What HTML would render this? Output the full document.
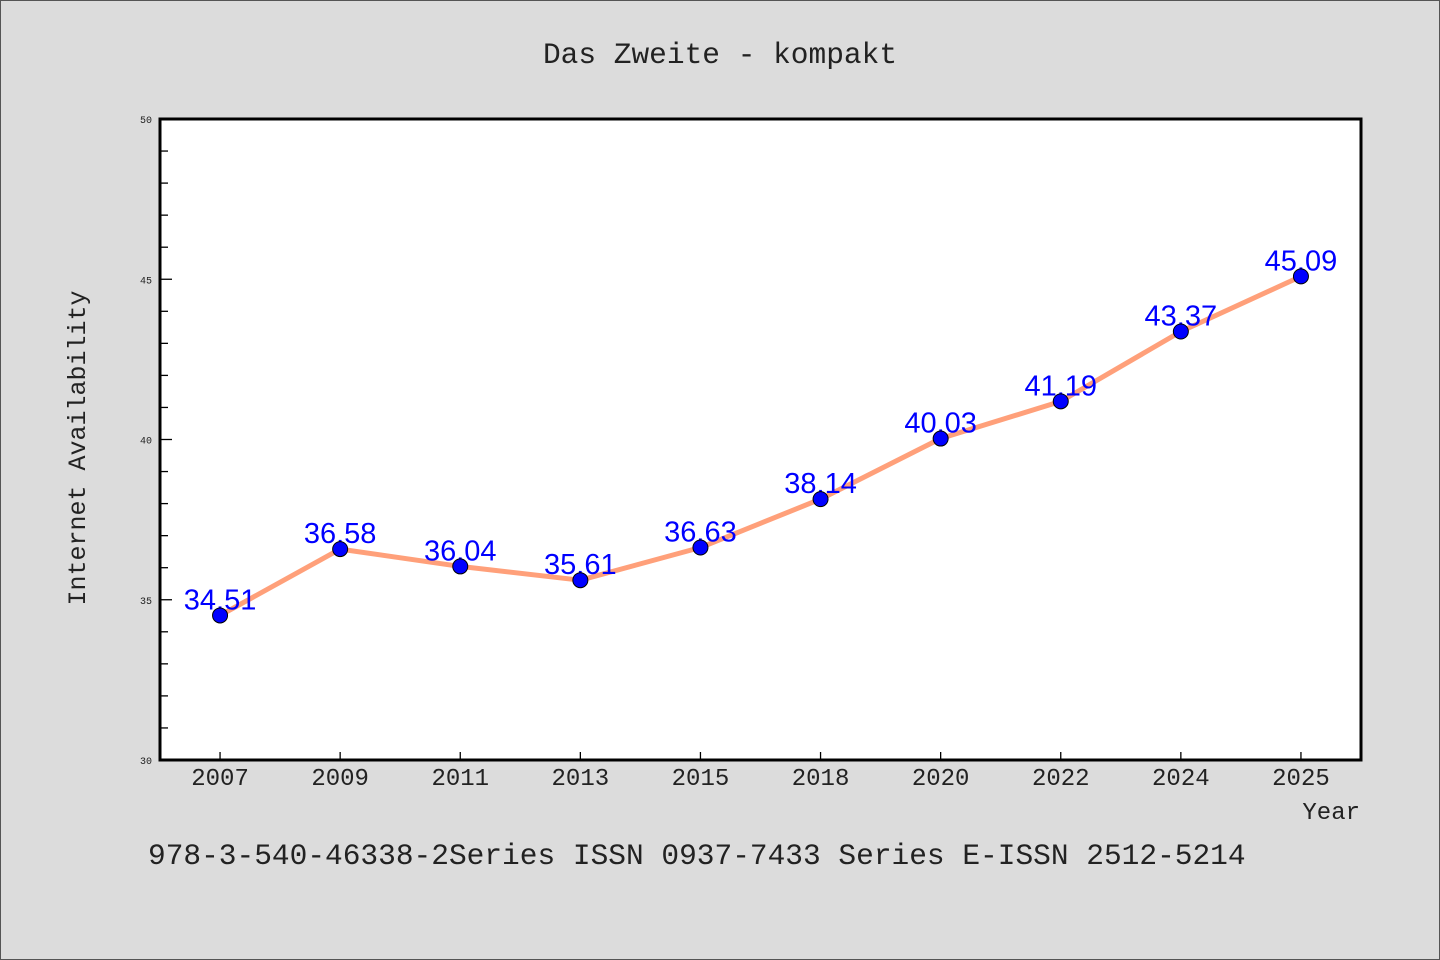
<!DOCTYPE html>
<html><head><meta charset="utf-8"><style>
body{margin:0;width:1440px;height:960px;background:#dcdcdc;overflow:hidden}
svg{display:block}
.cjk{font-family:"Liberation Mono",monospace;fill:#222}
</style></head><body>
<svg width="1440" height="960">
<rect x="0.5" y="0.5" width="1439" height="959" fill="#dcdcdc" stroke="#555"/>
<text class="cjk" x="720" y="63" font-size="29.5" text-anchor="middle">Das Zweite - kompakt</text>
<rect x="160" y="119" width="1201" height="641" fill="#fff" stroke="#000" stroke-width="3"/>
<g id="yaxis"></g>
<g id="xaxis"></g>
<text class="cjk" transform="translate(85,448) rotate(-90)" font-size="25" text-anchor="middle">Internet Availability</text>
<text class="cjk" x="1360" y="819" font-size="24" text-anchor="end">Year</text>
<text class="cjk" x="148" y="864" font-size="29.5">978-3-540-46338-2Series ISSN 0937-7433 Series E-ISSN 2512-5214</text>
<g id="series"></g>
</svg>
<script>
const categories=["2007","2009","2011","2013","2015","2018","2020","2022","2024","2025"];
const values=[34.51,36.58,36.04,35.61,36.63,38.14,40.03,41.19,43.37,45.09];
const yTicks=[30,35,40,45,50];
const yMin=30,yMax=50;
const NS="http://www.w3.org/2000/svg";
const L=160,R=1361,T=119,B=760;
const step=(R-L)/categories.length;
function xs(i){return L+step*(i+0.5);}
function ys(v){return B-(v-yMin)/(yMax-yMin)*(B-T);}
function mk(tag,attrs,parent){const e=document.createElementNS(NS,tag);for(const k in attrs)e.setAttribute(k,attrs[k]);parent.appendChild(e);return e;}
const ya=document.getElementById('yaxis'),xa=document.getElementById('xaxis'),sg=document.getElementById('series');
for(let v=yMin;v<=yMax;v+=1){
  const major=yTicks.includes(v);
  const t=mk('line',{x1:L,x2:L+(major?12:8),y1:ys(v),y2:ys(v),stroke:'#000','stroke-width':1.3},ya);
  
  
}
yTicks.forEach(v=>{
  const t=mk('text',{x:L-8,y:ys(v)+4,'font-size':10,'text-anchor':'end',class:'cjk'},ya);
  t.textContent=v;
  
  
});
categories.forEach((c,i)=>{
  const t=mk('line',{x1:xs(i),x2:xs(i),y1:B,y2:B-8,stroke:'#000','stroke-width':1.3},xa);
  
  
  const l=mk('text',{x:xs(i),y:B+25,'font-size':24,'text-anchor':'middle',class:'cjk'},xa);
  l.textContent=c;
  
  
});
const pts=values.map((v,i)=>xs(i)+','+ys(v)).join(' ');
const line=mk('polyline',{points:pts,fill:'none',stroke:'#ffa07a','stroke-width':5,'stroke-linejoin':'round'},sg);


values.forEach((v,i)=>{
  const lb=mk('text',{x:xs(i),y:ys(v)-6,'font-size':29,'text-anchor':'middle',fill:'#0000ff','font-family':'"Liberation Sans",sans-serif'},sg);
  lb.textContent=v.toFixed(2);
  
  
  const c=mk('circle',{cx:xs(i),cy:ys(v),r:7.5,fill:'#0000ff',stroke:'#000','stroke-width':1},sg);
  
  
});
</script>
</body></html>
